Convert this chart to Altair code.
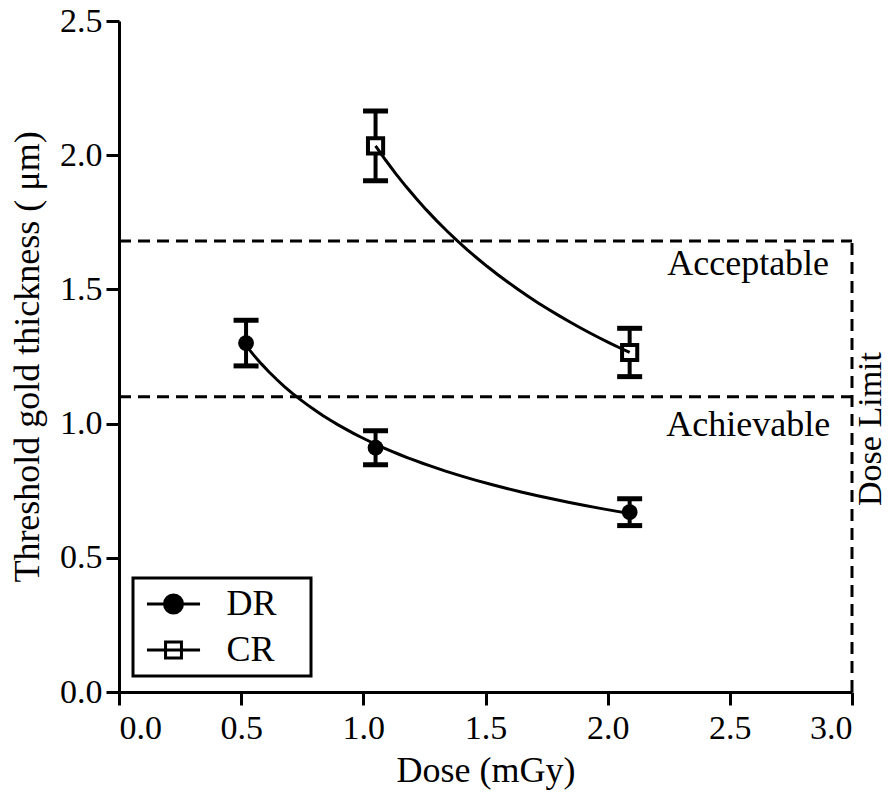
import altair as alt
import pandas as pd

# ---- data ----
series_dr = ["DR", "DR", "DR"]
dose_dr = [0.52, 1.05, 2.09]
thk_dr = [1.30, 0.91, 0.67]
err_dr = [0.085, 0.063, 0.050]

series_cr = ["CR", "CR"]
dose_cr = [1.05, 2.09]
thk_cr = [2.035, 1.265]
err_cr = [0.13, 0.09]

# dashed reference lines: acceptable / achievable thresholds and dose limit
seg_x0 = [0.0, 0.0, 3.0]
seg_x1 = [3.0, 3.0, 3.0]
seg_y0 = [1.68, 1.10, 0.0]
seg_y1 = [1.68, 1.10, 1.68]

note_text = ["Acceptable", "Achievable"]
note_x = [2.575, 2.575]
note_y = [1.553, 0.954]

x_ticks = [0.0, 0.5, 1.0, 1.5, 2.0, 2.5, 3.0]
y_ticks = [0.0, 0.5, 1.0, 1.5, 2.0, 2.5]

FONT = "Liberation Serif"

df = pd.DataFrame({
    "series": series_dr + series_cr,
    "dose": dose_dr + dose_cr,
    "thk": thk_dr + thk_cr,
    "err": err_dr + err_cr,
})
segs = pd.DataFrame({"x0": seg_x0, "x1": seg_x1, "y0": seg_y0, "y1": seg_y1})
notes = pd.DataFrame({"t": note_text, "x": note_x, "y": note_y})
dl = pd.DataFrame({"t": ["Dose Limit"], "x": [3.12], "y": [0.98]})

xs = alt.Scale(domain=[0, 3], nice=False, zero=False)
ys = alt.Scale(domain=[0, 2.5], nice=False, zero=False)

x_axis = alt.Axis(values=x_ticks, format=".1f", title="Dose (mGy)",
                  labelPadding=6, titlePadding=8)
y_axis = alt.Axis(values=y_ticks, format=".1f", title="Threshold gold thickness ( μm)",
                  labelPadding=4, titleX=-92, titleBaseline="middle")

X = alt.X("dose:Q", scale=xs, axis=x_axis)
Y = alt.Y("thk:Q", scale=ys, axis=y_axis)

base = alt.Chart(df)

rules = alt.Chart(segs).mark_rule(strokeDash=[12, 7], strokeWidth=3, color="black").encode(
    x=alt.X("x0:Q", scale=xs), x2="x1:Q",
    y=alt.Y("y0:Q", scale=ys), y2="y1:Q",
)

err = base.transform_calculate(
    lo="datum.thk - datum.err", hi="datum.thk + datum.err"
)
err_rule = err.mark_rule(strokeWidth=4, color="black", opacity=1).encode(
    x=X, y=alt.Y("lo:Q", scale=ys), y2="hi:Q")
cap_lo = err.mark_tick(orient="horizontal", size=25, thickness=5, color="black",
                       opacity=1).encode(x=X, y=alt.Y("lo:Q", scale=ys))
cap_hi = err.mark_tick(orient="horizontal", size=25, thickness=5, color="black",
                       opacity=1).encode(x=X, y=alt.Y("hi:Q", scale=ys))

dr_pts = base.transform_filter("datum.series == 'DR'").mark_point(
    shape="circle", filled=True, size=250, color="black", opacity=1).encode(x=X, y=Y)
cr_pts = base.transform_filter("datum.series == 'CR'").mark_point(
    shape="square", filled=False, fill="white", stroke="black", strokeWidth=4,
    size=230, opacity=1).encode(x=X, y=Y)

curves = base.transform_regression(
    "dose", "thk", method="pow", groupby=["series"]
).mark_line(color="black", strokeWidth=3).encode(x=X, y=Y, detail="series:N")

DR_PATH = "M-1.77,0H1.77M0.6,0A0.6,0.6,0,1,1,-0.6,0A0.6,0.6,0,1,1,0.6,0Z"
CR_PATH = "M-1.77,0H1.77M-0.53,-0.53H0.53V0.53H-0.53Z"

PAD = "\u2800"
legend = alt.Legend(
    title=None, orient="none", legendX=14, legendY=557,
    padding=8, rowPadding=10, symbolOffset=14.5, labelOffset=35,
    labelFont=FONT, labelFontSize=36, labelColor="black",
    symbolStrokeWidth=3, symbolOpacity=1,
    symbolSize=900,
    labelExpr="datum.label + '" + PAD + "'",
)
dom = ["DR", "CR"]
legend_layer = base.mark_point(opacity=0, strokeWidth=3).encode(
    x=X, y=Y,
    shape=alt.Shape("series:N", scale=alt.Scale(domain=dom, range=[DR_PATH, CR_PATH]),
                    legend=legend),
    fill=alt.Fill("series:N", scale=alt.Scale(domain=dom, range=["black", "white"]),
                  legend=legend),
    stroke=alt.Stroke("series:N", scale=alt.Scale(domain=dom, range=["black", "black"]),
                      legend=legend),
)

note_marks = alt.Chart(notes).mark_text(font=FONT, fontSize=36, color="black",
                                        align="center", baseline="alphabetic").encode(
    x=alt.X("x:Q", scale=xs), y=alt.Y("y:Q", scale=ys), text="t:N")
dl_mark = alt.Chart(dl).mark_text(font=FONT, fontSize=34, color="black", angle=270,
                                  align="center", baseline="alphabetic").encode(
    x=alt.X("x:Q", scale=xs), y=alt.Y("y:Q", scale=ys), text="t:N")

chart = alt.layer(
    rules, err_rule, cap_lo, cap_hi, dr_pts, cr_pts, curves, legend_layer, note_marks, dl_mark
).properties(
    width=733, height=671,
    autosize=alt.AutoSizeParams(type="none"),
    padding={"left": 111, "top": 13, "right": 35, "bottom": 104},
).configure_view(stroke=None).configure_axis(
    grid=False, domainColor="black", domainWidth=3, tickColor="black", tickWidth=3,
    tickSize=13, labelFont=FONT, labelFontSize=34, labelColor="black",
    titleFont=FONT, titleFontSize=36, titleFontWeight="normal", titleColor="black",
).configure_legend(strokeColor="black", strokeWidth=3)

chart.save("out.html", embed_options={"renderer": "svg", "actions": False})
